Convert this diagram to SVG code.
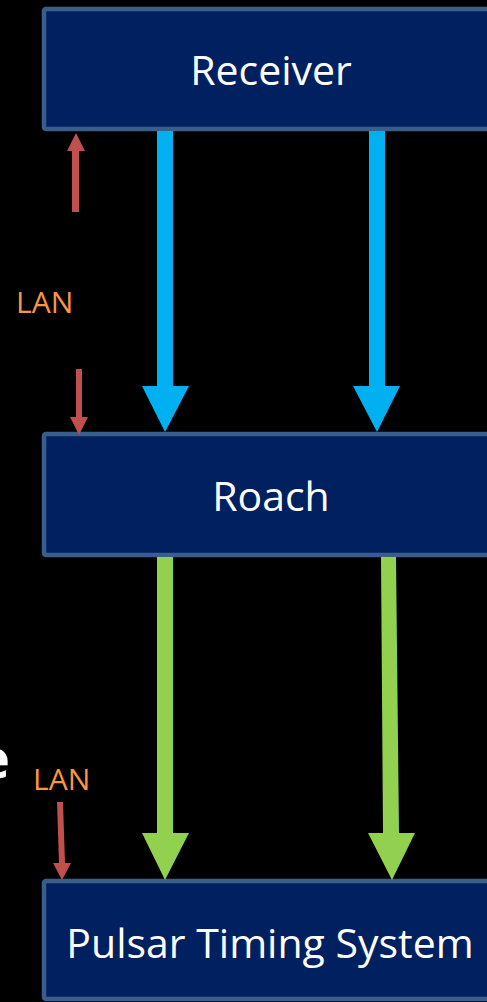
<svg xmlns="http://www.w3.org/2000/svg" width="487" height="1002" viewBox="0 0 487 1002">
  <style>
    .box { fill: #002060; stroke: #3A5E8C; stroke-width: 4.5; }
    .label { font-family: "Open Sans", "Noto Sans", "Liberation Sans", sans-serif; font-size: 41px; fill: #FFFFFF; }
    .lan { font-family: "Open Sans", "Noto Sans", "Liberation Sans", sans-serif; font-size: 30px; fill: #F79646; }
    .side { font-family: "Open Sans", "Liberation Sans", sans-serif; font-size: 54px; font-weight: bold; fill: #FFFFFF; }
    .rf { fill: #00B0F0; }
    .data { fill: #92D050; }
    .lanlink { fill: #C0504D; }
  </style>
  <rect x="0" y="0" width="487" height="1002" fill="#000000"/>

  <!-- partial heading letter at the left edge -->
  <text class="side" x="10" y="778" text-anchor="end">e</text>

  <g id="receiver">
    <rect class="box" x="44" y="9" width="470" height="120" rx="2"/>
    <text class="label" x="271" y="85" text-anchor="middle">Receiver</text>
  </g>

  <g id="roach">
    <rect class="box" x="44" y="434" width="470" height="121" rx="2"/>
    <text class="label" x="271" y="511" text-anchor="middle">Roach</text>
  </g>

  <g id="pulsar-timing-system">
    <rect class="box" x="44" y="881" width="470" height="118" rx="2"/>
    <text class="label" x="270" y="958" text-anchor="middle">Pulsar Timing System</text>
  </g>

  <g id="connectors">
    <!-- RF paths: Receiver to Roach -->
    <polygon class="rf" points="157,131 173,131 173,386 189,386 165,432 142,386 157,386"/>
    <polygon class="rf" points="369,131 385,131 385,386 400,386 377,432 353,386 369,386"/>
    <!-- data paths: Roach to Pulsar Timing System -->
    <polygon class="data" points="157,557 173,557 173,833 189,833 165,880 142,833 157,833"/>
    <polygon class="data" points="381,557 396,557 399,833 415,833 392,880 368,833 383,833"/>
    <!-- LAN control links -->
    <polygon class="lanlink" points="72,212 79,212 79,151 85,151 76,133 67,151 72,151"/>
    <polygon class="lanlink" points="76,369 82,369 82,417 88,417 79,435 70,417 76,417"/>
    <polygon class="lanlink" points="57,802 63,802 65,863 71,863 62,880 53,863 59,863"/>
  </g>

  <text class="lan" x="16" y="313">LAN</text>
  <text class="lan" x="33" y="790">LAN</text>
</svg>
